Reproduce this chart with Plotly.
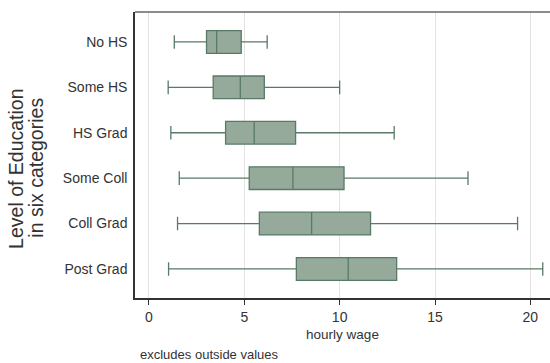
import plotly.graph_objects as go

# education categories, top to bottom
education = ["No HS", "Some HS", "HS Grad", "Some Coll", "Coll Grad", "Post Grad"]

# box summary stats of hourly wage (outside values excluded)
lower_adj = [1.33, 1.01, 1.15, 1.59, 1.50, 1.03]
q1 = [3.02, 3.37, 4.02, 5.26, 5.79, 7.73]
median = [3.55, 4.79, 5.52, 7.55, 8.53, 10.45]
q3 = [4.84, 6.05, 7.69, 10.23, 11.62, 12.99]
upper_adj = [6.20, 10.00, 12.86, 16.73, 19.33, 20.65]

x_ticks = [0, 5, 10, 15, 20]

fill = "#95aa9b"
edge = "#587a66"
ink = "#333333"

fig = go.Figure()
fig.add_trace(
    go.Box(
        y=education,
        q1=q1,
        median=median,
        q3=q3,
        lowerfence=lower_adj,
        upperfence=upper_adj,
        orientation="h",
        fillcolor=fill,
        line=dict(color=edge, width=1.3),
        width=0.5,
        whiskerwidth=0.6,
        boxpoints=False,
        hoverinfo="skip",
        showlegend=False,
    )
)

fig.update_xaxes(
    range=[-0.73, 21.03],
    tickvals=x_ticks,
    showgrid=True,
    gridcolor="#e3e3e3",
    gridwidth=1,
    zeroline=False,
    showline=True,
    linecolor=ink,
    linewidth=1.5,
    ticks="outside",
    ticklen=5,
    tickcolor=ink,
    tickfont=dict(size=14, color=ink),
    title=dict(text="hourly wage", font=dict(size=13.5, color=ink), standoff=6),
)
fig.update_yaxes(
    categoryorder="array",
    categoryarray=education,
    autorange=False,
    range=[5.64, -0.66],
    showgrid=False,
    zeroline=False,
    showline=True,
    linecolor=ink,
    linewidth=1.5,
    ticks="",
    ticklabelstandoff=3,
    tickfont=dict(size=14, color=ink),
)

fig.update_layout(
    width=550,
    height=363,
    margin=dict(l=135, r=0, t=12, b=65),
    paper_bgcolor="white",
    plot_bgcolor="white",
    font=dict(family="Liberation Sans, Arial, sans-serif"),
    shapes=[
        dict(type="line", xref="paper", yref="paper", x0=0, x1=1, y0=1, y1=1,
             line=dict(color="#666666", width=1.5)),
    ],
    annotations=[
        dict(
            text="Level of Education",
            xref="paper", yref="paper", x=-0.287, y=0.451,
            xanchor="center", yanchor="middle", textangle=-90,
            showarrow=False, font=dict(size=19.5, color=ink),
        ),
        dict(
            text="in six categories",
            xref="paper", yref="paper", x=-0.239, y=0.455,
            xanchor="center", yanchor="middle", textangle=-90,
            showarrow=False, font=dict(size=19.5, color=ink),
        ),
        dict(
            text="excludes outside values",
            xref="paper", yref="paper", x=0.007, y=-0.199,
            xanchor="left", yanchor="middle",
            showarrow=False, font=dict(size=13, color=ink),
        ),
    ],
)

# drop the page's default body margin so the figure fills the window
fig.write_html(
    "out.html",
    config={"displayModeBar": False},
    post_script="document.body.style.margin='0';document.body.style.overflow='hidden';",
)
